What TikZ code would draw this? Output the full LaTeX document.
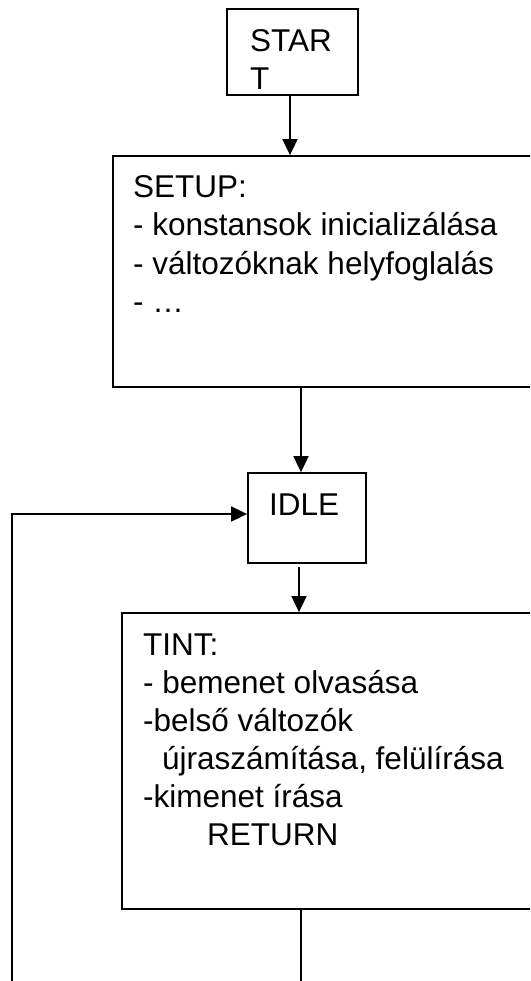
\documentclass[tikz,border=0pt]{standalone}
\usepackage{fontspec}
\setmainfont{Liberation Sans}
\usetikzlibrary{arrows.meta}
\begin{document}
\begin{tikzpicture}[x=1pt,y=-1pt,
  box/.style={draw,line width=1.8pt,rectangle,inner sep=0pt},
  txt/.style={anchor=base west,inner sep=0pt,align=left,font=\fontsize{31.5}{38}\selectfont},
  flow/.style={line width=1.8pt},
  arr/.style={flow,-{Triangle[length=16pt,width=15pt]}}]
\path[use as bounding box,clip] (0,0) rectangle (530,981);
% boxes
\node[box,minimum width=131pt,minimum height=86pt] (start) at (292.5,52) {};
\node[box,minimum width=432pt,minimum height=231pt] (setup) at (329,271.5) {};
\node[box,minimum width=118pt,minimum height=90pt] (idle) at (307,518) {};
\node[box,minimum width=423pt,minimum height=296pt] (tint) at (333.5,761) {};
% texts, each placed by the baseline of its last line
\node[txt] (starttxt) at (250,90) {STAR\\T};
\node[txt] (setuptxt) at (133,312) {SETUP:\\- konstansok inicializálása\\- változóknak helyfoglalás\\- …};
\node[txt] (idletxt) at (269,515) {IDLE};
\node[txt] (tinttxt) at (143,845) {TINT:\\- bemenet olvasása\\-belső változók\\\hspace{19pt}újraszámítása, felülírása\\-kimenet írása\\\hspace{64pt}RETURN};
% loop ends below the page
\coordinate (lb) at (12,995);
\coordinate (rb) at (301,995);
% connectors
\draw[arr] ([xshift=-2.5pt]start.south) -- ([xshift=-2.5pt]start.south |- setup.north);
\draw[arr] ([xshift=-6pt]idle.north |- setup.south) -- ([xshift=-6pt]idle.north);
\draw[arr] ([xshift=-8pt,yshift=-3pt]idle.south) -- ([xshift=-8pt]idle.south |- tint.north);
\draw[flow] (tint.south -| rb) -- (rb);
\draw[arr] (lb) |- ([yshift=4pt]idle.west);
\end{tikzpicture}
\end{document}
